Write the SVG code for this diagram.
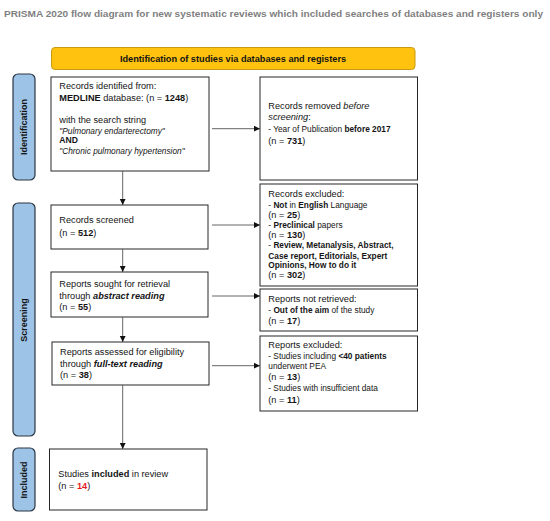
<svg xmlns="http://www.w3.org/2000/svg" width="550" height="521" viewBox="0 0 550 521">
<defs>
<marker id="ah" markerUnits="userSpaceOnUse" markerWidth="7" markerHeight="7" refX="6" refY="3.5" orient="auto">
<path d="M0,0.6 L6,3.5 L0,6.4 Z" fill="#111"/>
</marker>
</defs>
<style>
.box{fill:#fff;stroke:#262626;stroke-width:1}
.side{fill:#9dc3e6;stroke:#2c3644;stroke-width:1.2}
.hdr{fill:#ffc20e;stroke:#c99a10;stroke-width:1}
text{font-family:"Liberation Sans",Arial,sans-serif;fill:#141414;font-size:9.2px}
.s{font-size:8.3px}
.b{font-weight:bold}
.i{font-style:italic}
.lab{font-weight:bold;font-size:9px;text-anchor:middle}
.title{font-family:"Liberation Sans",Arial,sans-serif;font-weight:bold;font-size:9.3px;fill:#7f7f7f}
.con{fill:none;stroke:#555;stroke-width:0.9;marker-end:url(#ah)}
</style>
<rect width="550" height="521" fill="#fff"/>
<text class="title" x="4" y="17.3" textLength="539" lengthAdjust="spacingAndGlyphs">PRISMA 2020 flow diagram for new systematic reviews which included searches of databases and registers only</text>

<g id="header">
<rect class="hdr" x="51.5" y="47.5" width="363.5" height="22" rx="3.5"/>
<text x="233" y="61.8" class="b" style="font-size:9.2px" text-anchor="middle">Identification of studies via databases and registers</text>
</g>

<g id="side-identification">
<rect class="side" x="13" y="74" width="22" height="106" rx="5"/>
<text class="lab" transform="translate(27.3,127) rotate(-90)">Identification</text>
</g>
<g id="side-screening">
<rect class="side" x="13" y="203" width="22" height="233" rx="5"/>
<text class="lab" transform="translate(27.3,320) rotate(-90)">Screening</text>
</g>
<g id="side-included">
<rect class="side" x="13" y="448" width="22" height="63" rx="5"/>
<text class="lab" transform="translate(27.3,480) rotate(-90)">Included</text>
</g>

<g id="records-identified">
<rect class="box" x="51" y="77" width="158" height="94"/>
<text x="59.3" y="89">Records identified from:</text>
<text x="59.3" y="101"><tspan class="b">MEDLINE</tspan> database: (n = <tspan class="b">1248</tspan>)</text>
<text x="59.3" y="123">with the search string</text>
<text x="59.3" y="134.3" class="s i">"Pulmonary endarterectomy"</text>
<text x="59.3" y="143" class="b" style="font-size:8.6px">AND</text>
<text x="59.3" y="154" class="s i">"Chronic pulmonary hypertension"</text>
</g>

<g id="records-removed">
<rect class="box" x="260" y="77" width="157.5" height="103"/>
<text x="268.3" y="109.3">Records removed <tspan class="i">before</tspan></text>
<text x="268.3" y="120"><tspan class="i">screening</tspan>:</text>
<text x="268.3" y="132.3" class="s">- Year of Publication <tspan class="b">before 2017</tspan></text>
<text x="268.3" y="143.5">(n = <tspan class="b">731</tspan>)</text>
</g>

<g id="records-screened">
<rect class="box" x="51" y="205" width="157" height="44"/>
<text x="59.3" y="223.3">Records screened</text>
<text x="59.3" y="235.7">(n = <tspan class="b">512</tspan>)</text>
</g>

<g id="records-excluded">
<rect class="box" x="260" y="184" width="157.5" height="102"/>
<text x="268.3" y="197.3">Records excluded:</text>
<text x="268.3" y="207.5" class="s">- <tspan class="b">Not</tspan> in <tspan class="b">English</tspan> Language</text>
<text x="268.3" y="217.5">(n = <tspan class="b">25</tspan>)</text>
<text x="268.3" y="227.7" class="s">- <tspan class="b">Preclinical</tspan> papers</text>
<text x="268.3" y="237.5">(n = <tspan class="b">130</tspan>)</text>
<text x="268.3" y="248.3" class="s">- <tspan class="b">Review, Metanalysis, Abstract,</tspan></text>
<text x="268.3" y="258.5" class="s b">Case report, Editorials, Expert</text>
<text x="268.3" y="267.8" class="s b">Opinions, How to do it</text>
<text x="268.3" y="278.3">(n = <tspan class="b">302</tspan>)</text>
</g>

<g id="reports-sought">
<rect class="box" x="51" y="272" width="157" height="45"/>
<text x="59.3" y="286.7">Reports sought for retrieval</text>
<text x="59.3" y="299.3">through <tspan class="b i">abstract reading</tspan></text>
<text x="59.3" y="310.3">(n = <tspan class="b">55</tspan>)</text>
</g>

<g id="reports-not-retrieved">
<rect class="box" x="260" y="289" width="157.5" height="42"/>
<text x="268.3" y="301.7">Reports not retrieved:</text>
<text x="268.3" y="313.3" class="s">- <tspan class="b">Out of the aim</tspan> of the study</text>
<text x="268.3" y="324.3">(n = <tspan class="b">17</tspan>)</text>
</g>

<g id="reports-assessed">
<rect class="box" x="52" y="342" width="157" height="43"/>
<text x="60" y="355">Reports assessed for eligibility</text>
<text x="60" y="366.7">through <tspan class="b i">full-text reading</tspan></text>
<text x="60" y="377.8">(n = <tspan class="b">38</tspan>)</text>
</g>

<g id="reports-excluded">
<rect class="box" x="260" y="336" width="157.5" height="75"/>
<text x="268.3" y="348.3">Reports excluded:</text>
<text x="268.3" y="359.3" class="s">- Studies including <tspan class="b">&lt;40 patients</tspan></text>
<text x="268.3" y="369.3" class="s">underwent PEA</text>
<text x="268.3" y="379.5">(n = <tspan class="b">13</tspan>)</text>
<text x="268.3" y="391" class="s">- Studies with insufficient data</text>
<text x="268.3" y="402.7">(n = <tspan class="b">11</tspan>)</text>
</g>

<g id="studies-included">
<rect class="box" x="49.5" y="449" width="157.5" height="61"/>
<text x="58.3" y="476.7">Studies <tspan class="b">included</tspan> in review</text>
<text x="58.3" y="488.5">(n = <tspan class="b" style="fill:#e8191f">14</tspan>)</text>
</g>

<g id="connectors">
<line class="con" x1="212" y1="128.7" x2="260" y2="128.7"/>
<line class="con" x1="122.7" y1="171" x2="122.7" y2="205"/>
<line class="con" x1="212" y1="225" x2="260" y2="225"/>
<line class="con" x1="122.7" y1="249" x2="122.7" y2="272"/>
<line class="con" x1="212" y1="296" x2="260" y2="296"/>
<line class="con" x1="122.7" y1="317" x2="122.7" y2="342"/>
<line class="con" x1="212" y1="365.7" x2="260" y2="365.7"/>
<line class="con" x1="122.7" y1="385" x2="122.7" y2="449"/>
</g>
</svg>
